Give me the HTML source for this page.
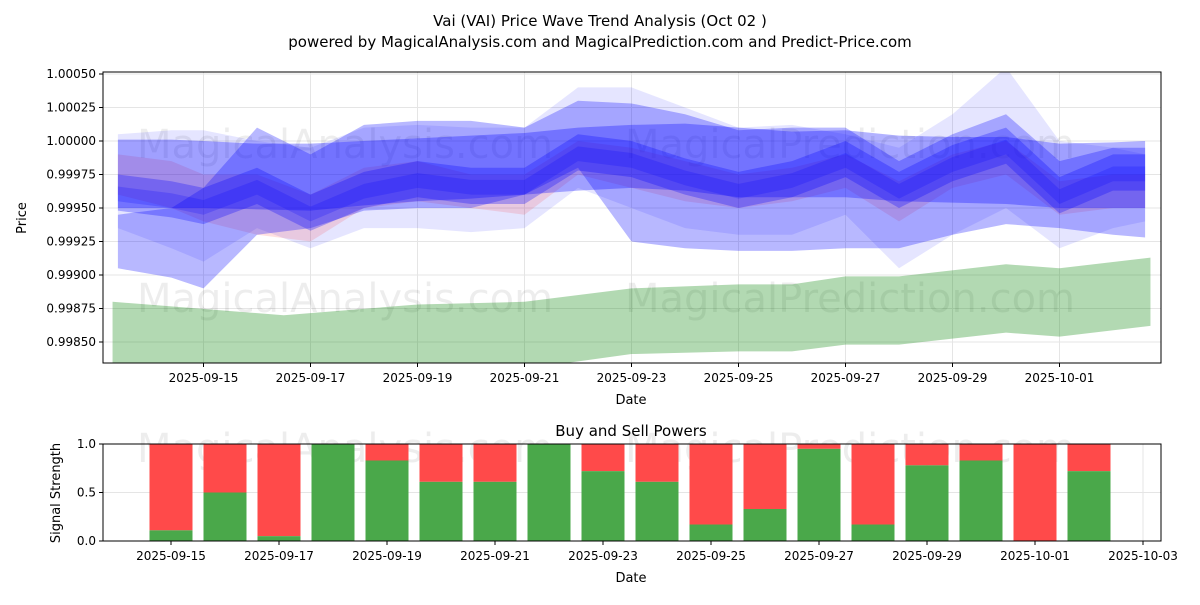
<!DOCTYPE html>
<html><head><meta charset="utf-8"><style>
body{margin:0;background:#fff;font-family:"Liberation Sans","DejaVu Sans",sans-serif}
svg text{font-family:"DejaVu Sans","Liberation Sans",sans-serif}
</style></head><body>
<svg id="c" width="1200" height="600" xmlns="http://www.w3.org/2000/svg">
<defs>
<clipPath id="clipTop"><rect x="103" y="72" width="1058" height="291"/></clipPath>
</defs>
<text x="600" y="26" text-anchor="middle" font-size="15">Vai (VAI) Price Wave Trend Analysis (Oct 02 )</text>
<text x="600" y="47" text-anchor="middle" font-size="15">powered by MagicalAnalysis.com and MagicalPrediction.com and Predict-Price.com</text>
<g id="topPanel"></g>
<g id="botPanel"></g>
</svg>
<script>
const NS="http://www.w3.org/2000/svg";
// ---- top chart data ----
const days=[-1.6,-0.6,0,1,2,3,4,5,6,7,8,9,10,11,12,13,14,15,16,17,17.6];
const band1Upper=[1.00001,1.00001,1.00000,0.99998,0.99998,1.00000,1.00002,1.00004,1.00006,1.00010,1.00012,1.00013,1.00010,1.00007,1.00008,1.00004,1.00003,1.00003,0.99998,0.99999,1.00000];
const band1Lower=[0.99950,0.99950,0.99950,0.99949,0.99948,0.99952,0.99955,0.99957,0.99960,0.99963,0.99965,0.99963,0.99958,0.99958,0.99958,0.99955,0.99954,0.99953,0.99950,0.99950,0.99950];
const band2Upper=[0.99945,0.99950,0.99965,1.00010,0.99990,1.00012,1.00015,1.00015,1.00010,1.00030,1.00028,1.00020,1.00008,1.00010,1.00010,0.99985,1.00005,1.00020,0.99985,0.99995,0.99995];
const band2Lower=[0.99905,0.99898,0.99890,0.99930,0.99935,0.99948,0.99950,0.99950,0.99960,0.99980,0.99925,0.99920,0.99918,0.99918,0.99920,0.99920,0.99930,0.99938,0.99935,0.99930,0.99928];
const band4Upper=[1.00005,1.00008,1.00008,1.00000,0.99995,1.00010,1.00012,1.00010,1.00010,1.00040,1.00040,1.00025,1.00010,1.00012,1.00005,0.99995,1.00020,1.00055,1.00000,0.99995,0.99990];
const band4Lower=[0.99935,0.99920,0.99910,0.99935,0.99920,0.99935,0.99935,0.99932,0.99935,0.99965,0.99950,0.99935,0.99930,0.99930,0.99945,0.99905,0.99930,0.99950,0.99920,0.99935,0.99940];
const pinkUpper=[0.99990,0.99985,0.99975,0.99975,0.99960,0.99980,0.99985,0.99975,0.99975,1.00000,0.99995,0.99985,0.99975,0.99980,0.99990,0.99970,0.99990,1.00000,0.99970,0.99975,0.99975];
const pinkLower=[0.99960,0.99950,0.99940,0.99930,0.99925,0.99950,0.99955,0.99950,0.99945,0.99975,0.99965,0.99955,0.99950,0.99955,0.99965,0.99940,0.99965,0.99975,0.99945,0.99950,0.99950];
const center=[0.99960,0.99955,0.99950,0.99965,0.99945,0.99962,0.99970,0.99965,0.99965,0.99990,0.99985,0.99972,0.99962,0.99970,0.99985,0.99962,0.99982,0.99995,0.99958,0.99975,0.99975];
const greenDays=[-1.7,1.5,4,6,8,10,11,12,13,15,16,17.7];
const greenUpper=[0.99880,0.99870,0.99878,0.99880,0.99890,0.99893,0.99893,0.99899,0.99899,0.99908,0.99905,0.99913];
const greenLower=[0.99820,0.99825,0.99828,0.99830,0.99841,0.99843,0.99843,0.99848,0.99848,0.99857,0.99854,0.99862];
const yTicks=[1.00050,1.00025,1.00000,0.99975,0.99950,0.99925,0.99900,0.99875,0.99850];
const xTickDays=[0,2,4,6,8,10,12,14,16];
const xTickLabels=["2025-09-15","2025-09-17","2025-09-19","2025-09-21","2025-09-23","2025-09-25","2025-09-27","2025-09-29","2025-10-01"];
// ---- bottom chart data ----
const barDays=[0,1,2,3,4,5,6,7,8,9,10,11,12,13,14,15,16,17];
const buyPower=[0.11,0.5,0.05,1.0,0.83,0.61,0.61,1.0,0.72,0.61,0.17,0.33,0.95,0.17,0.78,0.83,0.0,0.72];
const bTickDays=[0,2,4,6,8,10,12,14,16,18];
const bTickLabels=["2025-09-15","2025-09-17","2025-09-19","2025-09-21","2025-09-23","2025-09-25","2025-09-27","2025-09-29","2025-10-01","2025-10-03"];
const yTicksB=[0,0.5,1.0];
const yTickLabelsB=["0.0","0.5","1.0"];

const X=d=>203.5+53.5*d;
const Y=v=>141-(v-1.0)/0.00025*33.5;
const XB=d=>171+54*d;
const YB=v=>541-v*97;

function mk(tag,attrs,parent){const e=document.createElementNS(NS,tag);for(const k in attrs)e.setAttribute(k,attrs[k]);parent.appendChild(e);return e;}
const topG=document.getElementById('topPanel'),botG=document.getElementById('botPanel');

yTicks.forEach((t,i)=>{
 const g=mk('line',{x1:103,x2:1161,y1:Y(t),y2:Y(t),stroke:'#e5e5e5','stroke-width':1},topG);
 
 
 mk('line',{x1:99,x2:103,y1:Y(t),y2:Y(t),stroke:'#000'},topG);
 const tx=mk('text',{x:96,y:Y(t)+4,'text-anchor':'end','font-size':12},topG);
 tx.textContent=t.toFixed(5);
 
 
});
xTickDays.forEach((d,i)=>{
 mk('line',{x1:X(d),x2:X(d),y1:72,y2:363,stroke:'#e5e5e5'},topG);
 mk('line',{x1:X(d),x2:X(d),y1:363,y2:367,stroke:'#000'},topG);
 const tx=mk('text',{x:X(d),y:382,'text-anchor':'middle','font-size':12},topG);
 tx.textContent=xTickLabels[i];
 
 
});
function wm(x,y,t,p){const e=mk('text',{x:x,y:y,'text-anchor':'middle','font-size':40,fill:'rgba(0,0,0,0.07)'},p);e.textContent=t;
 
 }
wm(345,158,'MagicalAnalysis.com',topG);
wm(850,158,'MagicalPrediction.com',topG);
wm(345,312,'MagicalAnalysis.com',topG);
wm(850,312,'MagicalPrediction.com',topG);

const clipG=mk('g',{'clip-path':'url(#clipTop)'},topG);
function band(xs,up,lo,fill,name){
 let p='M'+xs.map((d,i)=>X(d)+','+Y(up[i])).join(' L');
 for(let i=xs.length-1;i>=0;i--)p+=' L'+X(xs[i])+','+Y(lo[i]);
 const e=mk('path',{d:p+' Z',fill:fill,'stroke-linejoin':'round'},clipG);
 
 
}
band(greenDays,greenUpper,greenLower,'rgba(0,128,0,0.3)','green-band');
band(days,band4Upper,band4Lower,'rgba(0,0,255,0.1)','wave-band-light');
band(days,pinkUpper,pinkLower,'rgba(255,0,0,0.12)','wave-band-red');
band(days,band2Upper,band2Lower,'rgba(0,0,255,0.28)','wave-band-wide');
band(days,band1Upper,band1Lower,'rgba(0,0,255,0.3)','wave-band-flat');
band(days,center.map(v=>v+0.00015),center.map(v=>v-0.00012),'rgba(0,0,255,0.28)','wave-band-core');
band(days,center.map(v=>v+0.00006),center.map(v=>v-0.00005),'rgba(0,0,255,0.2)','wave-band-inner');
const fr=mk('rect',{x:103,y:72,width:1058,height:291,fill:'none',stroke:'#000'},topG);


const yl=mk('text',{x:26,y:218,'text-anchor':'middle','font-size':13,transform:'rotate(-90 26 218)'},topG);yl.textContent='Price';


const xl=mk('text',{x:631,y:404,'text-anchor':'middle','font-size':13},topG);xl.textContent='Date';



const bt=mk('text',{x:631,y:436,'text-anchor':'middle','font-size':15},botG);bt.textContent='Buy and Sell Powers';


yTicksB.forEach((t,i)=>{
 mk('line',{x1:103,x2:1161,y1:YB(t),y2:YB(t),stroke:'#e5e5e5'},botG);
 mk('line',{x1:99,x2:103,y1:YB(t),y2:YB(t),stroke:'#000'},botG);
 const tx=mk('text',{x:96,y:YB(t)+4,'text-anchor':'end','font-size':12},botG);tx.textContent=yTickLabelsB[i];
 
 
});
bTickDays.forEach((d,i)=>{
 mk('line',{x1:XB(d),x2:XB(d),y1:444,y2:541,stroke:'#e5e5e5'},botG);
 mk('line',{x1:XB(d),x2:XB(d),y1:541,y2:545,stroke:'#000'},botG);
 const tx=mk('text',{x:XB(d),y:560,'text-anchor':'middle','font-size':12},botG);tx.textContent=bTickLabels[i];
 
 
});
wm(345,462,'MagicalAnalysis.com',botG);
wm(850,462,'MagicalPrediction.com',botG);
barDays.forEach((d,i)=>{
 const x=XB(d)-21.5,b=buyPower[i];
 const r=mk('rect',{x:x,y:YB(1),width:43,height:YB(b)-YB(1),fill:'#ff4a4a'},botG);
 
 
 const g=mk('rect',{x:x,y:YB(b),width:43,height:YB(0)-YB(b),fill:'#4aa84a'},botG);
 
 
});
const fr2=mk('rect',{x:103,y:444,width:1058,height:97,fill:'none',stroke:'#000'},botG);


const yl2=mk('text',{x:60,y:493,'text-anchor':'middle','font-size':13,transform:'rotate(-90 60 493)'},botG);yl2.textContent='Signal Strength';


const xl2=mk('text',{x:631,y:582,'text-anchor':'middle','font-size':13},botG);xl2.textContent='Date';


</script>
</body></html>
